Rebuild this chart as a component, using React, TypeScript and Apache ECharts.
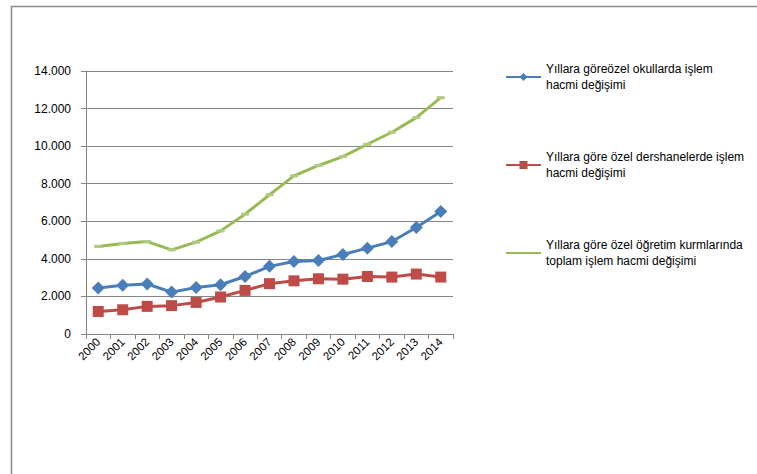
import React, { useEffect, useRef } from "react";
import * as echarts from "echarts";

const years = ["2000","2001","2002","2003","2004","2005","2006","2007","2008","2009","2010","2011","2012","2013","2014"];
const okullar = [2450, 2590, 2660, 2230, 2480, 2620, 3060, 3600, 3860, 3910, 4230, 4570, 4920, 5670, 6520];
const dershane = [1200, 1290, 1470, 1510, 1680, 1970, 2320, 2680, 2830, 2940, 2920, 3060, 3030, 3190, 3030];
const toplam = [4660, 4820, 4920, 4480, 4890, 5490, 6380, 7410, 8420, 8970, 9440, 10100, 10740, 11520, 12580];
const seriesNames = [
  "Yıllara göreözel okullarda işlem\nhacmi değişimi",
  "Yıllara göre özel dershanelerde işlem\nhacmi değişimi",
  "Yıllara göre özel öğretim kurmlarında\ntoplam işlem hacmi değişimi",
];

const FONT = "Liberation Sans, Arial, sans-serif";

export default function App() {
  const ref = useRef<HTMLDivElement>(null);
  useEffect(() => {
    if (!ref.current) return;
    const chart = echarts.init(ref.current, null, { renderer: "svg" });
    const legendBase = (name: string, top: number, extra: any = {}) => ({
      data: [name],
      left: 505,
      top,
      padding: 0,
      itemWidth: 35,
      itemHeight: 10,
      itemGap: 0,
      textStyle: {
        color: "#000",
        fontSize: 12,
        fontFamily: FONT,
        lineHeight: 16,
        padding: [16, 0, 0, 0],
      },
      ...extra,
    });
    chart.setOption({
      animation: false,
      backgroundColor: "#fff",
      textStyle: { fontFamily: FONT },
      graphic: [
        {
          type: "rect",
          left: 9,
          top: 4,
          shape: { width: 800, height: 520 },
          style: { fill: "none", stroke: "#8c8c8c", lineWidth: 1.5 },
          silent: true,
        },
      ],
      grid: { left: 86, top: 71, right: 304, bottom: 140 },
      legend: [
        legendBase(seriesNames[0], 53),
        legendBase(seriesNames[1], 141),
        legendBase(seriesNames[2], 229, { itemStyle: { opacity: 0 } }),
      ],
      xAxis: {
        type: "category",
        data: years,
        boundaryGap: true,
        axisLine: { lineStyle: { color: "#868686", width: 1 } },
        axisTick: { show: true, length: 5, lineStyle: { color: "#868686" } },
        axisLabel: { rotate: 45, fontSize: 11.5, color: "#000", margin: 6, fontFamily: FONT },
      },
      yAxis: {
        type: "value",
        min: 0,
        max: 14000,
        interval: 2000,
        axisLine: { show: true, lineStyle: { color: "#868686", width: 1 } },
        axisTick: { show: true, length: 5, lineStyle: { color: "#868686" } },
        splitLine: { lineStyle: { color: "#868686", width: 1 } },
        axisLabel: {
          fontSize: 12,
          color: "#000",
          margin: 15,
          fontFamily: FONT,
          formatter: (v: number) => (v === 0 ? "0" : (v / 1000).toFixed(3)),
        },
      },
      series: [
        {
          name: seriesNames[2],
          type: "line",
          data: toplam,
          symbol: "rect",
          symbolSize: [8, 3],
          itemStyle: { color: "#b0ca80" },
          lineStyle: { color: "#98b954", width: 3 },
          z: 2,
        },
        {
          name: seriesNames[1],
          type: "line",
          data: dershane,
          symbol: "rect",
          symbolSize: 11,
          itemStyle: { color: "#be4b48" },
          lineStyle: { color: "#be4b48", width: 3 },
          z: 3,
        },
        {
          name: seriesNames[0],
          type: "line",
          data: okullar,
          symbol: "diamond",
          symbolSize: 13,
          itemStyle: { color: "#4a7ebb" },
          lineStyle: { color: "#4a7ebb", width: 3 },
          z: 4,
        },
      ],
    });
    return () => chart.dispose();
  }, []);
  return (
    <div
      ref={ref}
      style={{ position: "absolute", left: 0, top: 0, width: 757, height: 474 }}
    />
  );
}
